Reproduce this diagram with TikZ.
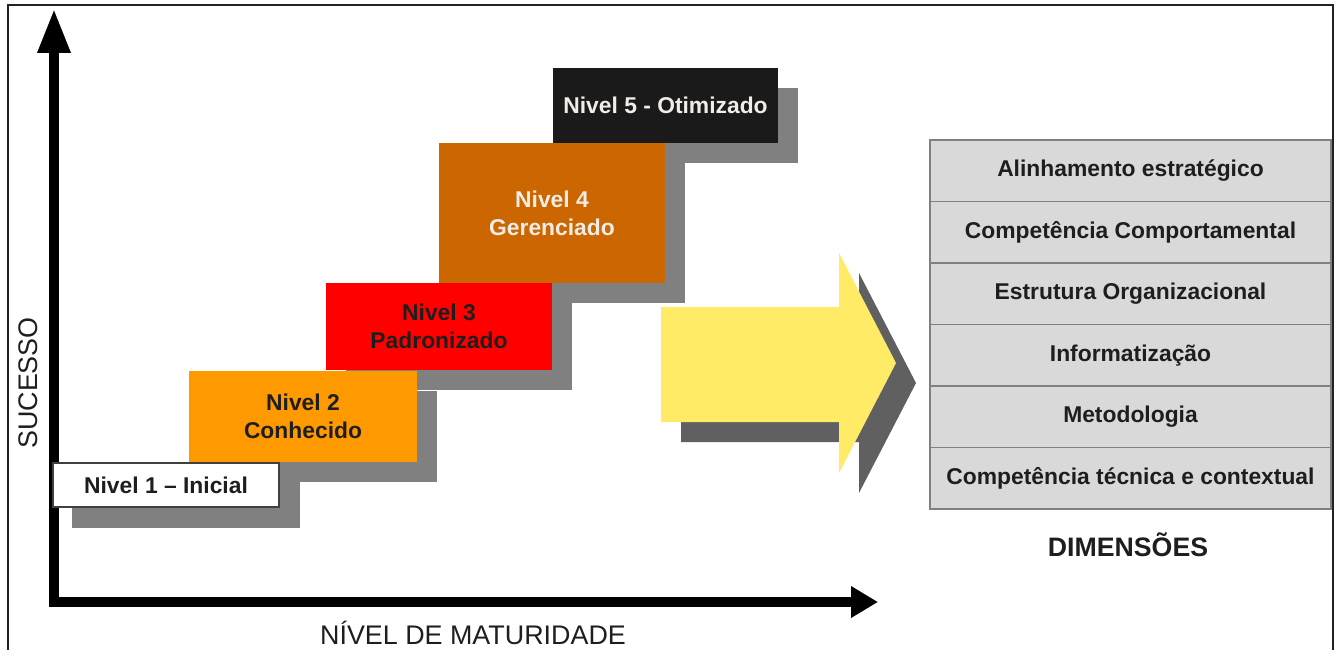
\documentclass[tikz,border=0pt]{standalone}
\usepackage{fontspec}
\setmainfont{Liberation Sans}
\usetikzlibrary{arrows.meta,backgrounds}
\definecolor{framec}{HTML}{222222}
\definecolor{shadowc}{HTML}{808080}
\definecolor{arrowshadow}{HTML}{606060}
\definecolor{yellowc}{HTML}{FFEB66}
\definecolor{orangec}{HTML}{FF9900}
\definecolor{redc}{HTML}{FF0000}
\definecolor{brownc}{HTML}{CC6600}
\definecolor{blackc}{HTML}{1A1A1A}
\definecolor{dimfill}{HTML}{D9D9D9}
\definecolor{dimborder}{HTML}{808080}
\definecolor{textdark}{HTML}{1E1E1E}
\definecolor{textlight}{HTML}{F2ECE6}
\tikzset{
  lvl/.style={inner sep=0pt, align=center, text=textdark,
    font=\fontsize{13}{16}\selectfont\bfseries},
  dimbox/.style={draw=dimborder, fill=dimfill, line width=1pt, inner sep=0pt,
    minimum width=8.02cm, minimum height=1.23cm, text=textdark,
    font=\fontsize{13}{16}\selectfont\bfseries},
  axislabel/.style={inner sep=0pt, text=textdark, font=\fontsize{15.3}{18}\selectfont},
  axisline/.style={line width=5.2pt, line join=miter, draw=black}
}
\begin{document}
\begin{tikzpicture}[x=0.02cm,y=-0.02cm]
\useasboundingbox (0,0) rectangle (1335,650);
% frame
\draw[framec, line width=1.4pt] (8,650) -- (8,5) -- (1333,5) -- (1333,650);

% axes
\coordinate (ytip) at (54,9);
\coordinate (origin) at (54,602);
\coordinate (xtip) at (878,602);
\draw[axisline, {Triangle[length=24.9pt,width=17.6pt]}-{Triangle[length=15.3pt,width=17pt]}]
  (ytip) -- (origin) -- (xtip);
\node[axislabel, rotate=90] (ylab) at (28,383) {SUCESSO};
\node[axislabel] (xlab) at (473,633) {NÍVEL DE MATURIDADE};

% levels
\node[lvl, draw=black!75, line width=0.8pt, fill=white, minimum width=4.52cm, minimum height=0.88cm] (n1) at (166,485) {Nivel 1 – Inicial};
\node[lvl, fill=orangec, minimum width=4.56cm, minimum height=1.82cm] (n2) at (303,416.5) {Nivel 2\\Conhecido};
\node[lvl, fill=redc, minimum width=4.52cm, minimum height=1.74cm] (n3) at (439,326.5) {Nivel 3\\Padronizado};
\node[lvl, fill=brownc, text=textlight, minimum width=4.52cm, minimum height=2.8cm] (n4) at (552,213) {Nivel 4\\Gerenciado};
\node[lvl, fill=blackc, text=textlight, minimum width=4.5cm, minimum height=1.5cm] (n5) at (665.5,105.5) {Nivel 5 - Otimizado};

\begin{scope}[on background layer]
  \foreach \n in {n1,n2,n3,n4,n5}
    \fill[shadowc] ([shift={(20,20)}]\n.north west) rectangle ([shift={(20,20)}]\n.south east);
  % big arrow shadow
  \fill[arrowshadow, shift={(20,20)}] (661,307) -- (839,307) -- (839,253) -- (896,363) -- (839,473) -- (839,422) -- (661,422) -- cycle;
\end{scope}
% big arrow
\fill[yellowc] (661,307) -- (839,307) -- (839,253) -- (896,363) -- (839,473) -- (839,422) -- (661,422) -- cycle;

% dimensions
\node[dimbox] (d1) at (1130.5,170.75) {Alinhamento estratégico};
\node[dimbox] (d2) at (1130.5,232.25) {Competência Comportamental};
\node[dimbox] (d3) at (1130.5,293.75) {Estrutura Organizacional};
\node[dimbox] (d4) at (1130.5,355.25) {Informatização};
\node[dimbox] (d5) at (1130.5,416.75) {Metodologia};
\node[dimbox] (d6) at (1130.5,478.25) {Competência técnica e contextual};
\node[inner sep=0pt, text=textdark, font=\fontsize{15.2}{18}\selectfont\bfseries] (dimlab) at (1128,545) {DIMENSÕES};
\end{tikzpicture}
\end{document}
